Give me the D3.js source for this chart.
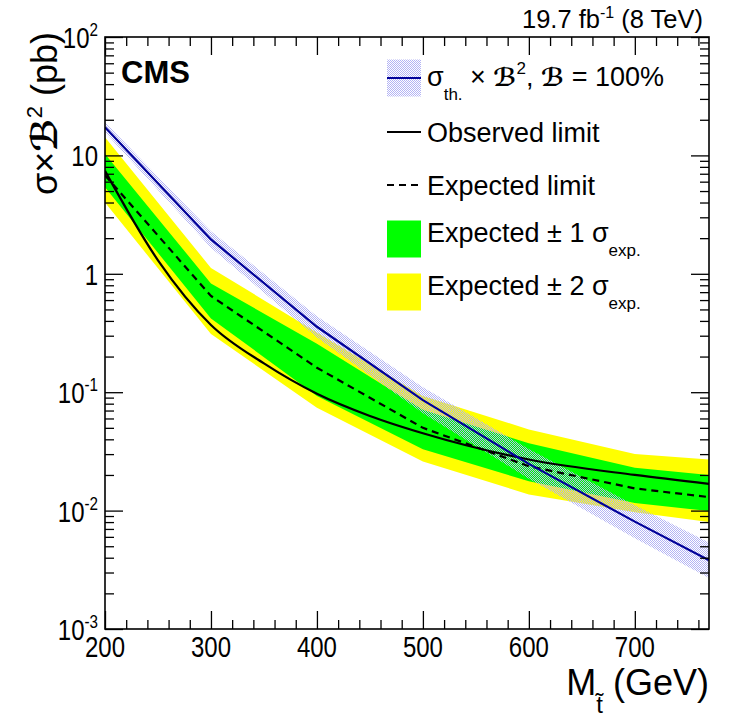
<!DOCTYPE html>
<html lang="en">
<head>
<meta charset="UTF-8">
<title>Stop pair limits</title>
<script src="https://cdn.jsdelivr.net/npm/d3@7"></script>
<style>
  body { margin: 0; background: #fff; }
  text { font-family: "Liberation Sans", Arial, Helvetica, sans-serif; fill: #000; }
</style>
</head>
<body>
<svg width="747" height="725" id="mainsvg"></svg>
<script>
// mass points (GeV) for bands, expected and theory
const masses = [200, 300, 400, 500, 600, 700, 770];
const expected = [6.8, 0.65, 0.161, 0.050, 0.0237, 0.0154, 0.013];
const exp1Up = [10.3, 0.83, 0.256, 0.071, 0.037, 0.023, 0.020];
const exp1Down = [5.37, 0.42, 0.093, 0.033, 0.0177, 0.0116, 0.0099];
const exp2Up = [14.2, 1.12, 0.32, 0.093, 0.0485, 0.030, 0.027];
const exp2Down = [4.0, 0.31, 0.074, 0.026, 0.0137, 0.0097, 0.0080];
const theory = [17.3, 1.95, 0.357, 0.0856, 0.0248, 0.00807, 0.0038];
const theoryUp = [19.1, 2.29, 0.439, 0.110, 0.0331, 0.0111, 0.00537];
const theoryDown = [15.7, 1.66, 0.290, 0.0665, 0.0186, 0.00585, 0.00269];
// observed limit (smooth curve)
const obsMasses = [200, 250, 300, 350, 400, 450, 500, 600, 700, 770];
const observed = [7.4, 1.3, 0.37, 0.175, 0.097, 0.063, 0.045, 0.027, 0.020, 0.0168];
// axis ticks
const xMajor = [200, 300, 400, 500, 600, 700];
const yMajor = [1e-3, 1e-2, 1e-1, 1, 10, 100];

const svg = d3.select('#mainsvg');
const pLeft = 105, pRight = 709, pTop = 37, pBottom = 629;

const x = d3.scaleLinear().domain([200, 770]).range([pLeft, pRight]);
const y = d3.scaleLog().domain([1e-3, 1e2]).range([pBottom, pTop]);

const defs = svg.append('defs');
defs.append('clipPath').attr('id', 'plotclip')
    .append('rect').attr('x', pLeft).attr('y', pTop)
    .attr('width', pRight - pLeft).attr('height', pBottom - pTop);
const pat = defs.append('pattern').attr('id', 'thpat')
    .attr('width', 2).attr('height', 2).attr('patternUnits', 'userSpaceOnUse');
pat.append('rect').attr('width', 1).attr('height', 1).attr('fill', '#b4b4f4');
pat.append('rect').attr('x', 1).attr('y', 1).attr('width', 1).attr('height', 1).attr('fill', '#b4b4f4');

const rows = masses.map((m, i) => ({
    m, exp: expected[i], e1u: exp1Up[i], e1d: exp1Down[i],
    e2u: exp2Up[i], e2d: exp2Down[i], th: theory[i], thu: theoryUp[i], thd: theoryDown[i]
}));
const obsRows = obsMasses.map((m, i) => ({ m, v: observed[i] }));

const plot = svg.append('g').attr('clip-path', 'url(#plotclip)');

const band = (lo, hi) => d3.area().x(d => x(d.m)).y0(d => y(d[lo])).y1(d => y(d[hi]));

plot.append('path').datum(rows).attr('d', band('e2d', 'e2u')).attr('fill', '#ffff00');
plot.append('path').datum(rows).attr('d', band('e1d', 'e1u')).attr('fill', '#00ff00');
plot.append('path').datum(rows).attr('d', band('thd', 'thu')).attr('fill', 'url(#thpat)');

plot.append('path').datum(rows)
    .attr('d', d3.line().x(d => x(d.m)).y(d => y(d.exp)))
    .attr('fill', 'none').attr('stroke', '#000').attr('stroke-width', 2.2)
    .attr('stroke-dasharray', '7,5');
plot.append('path').datum(obsRows)
    .attr('d', d3.line().x(d => x(d.m)).y(d => y(d.v)).curve(d3.curveMonotoneX))
    .attr('fill', 'none').attr('stroke', '#000').attr('stroke-width', 2.2);
plot.append('path').datum(rows)
    .attr('d', d3.line().x(d => x(d.m)).y(d => y(d.th)))
    .attr('fill', 'none').attr('stroke', '#000099').attr('stroke-width', 2.2);

// ticks on all four sides, pointing inwards
const xMinor = d3.range(220, 770, 20).filter(v => v % 100 !== 0);
const yMinor = [];
for (let e = -3; e < 2; e++) for (let k = 2; k < 10; k++) yMinor.push(k * Math.pow(10, e));

function ticks(axis, vals, size, tr) {
    svg.append('g').attr('transform', tr)
        .call(axis.tickValues(vals).tickSize(-size).tickSizeOuter(0).tickFormat(''))
        .call(g => g.select('.domain').remove())
        .call(g => g.selectAll('line').attr('stroke-width', 1.3));
}
ticks(d3.axisBottom(x), xMajor, 18, `translate(0,${pBottom})`);
ticks(d3.axisBottom(x), xMinor, 9, `translate(0,${pBottom})`);
ticks(d3.axisTop(x), xMajor, 18, `translate(0,${pTop})`);
ticks(d3.axisTop(x), xMinor, 9, `translate(0,${pTop})`);
ticks(d3.axisLeft(y), yMajor, 18, `translate(${pLeft},0)`);
ticks(d3.axisLeft(y), yMinor, 9, `translate(${pLeft},0)`);
ticks(d3.axisRight(y), yMajor, 18, `translate(${pRight},0)`);
ticks(d3.axisRight(y), yMinor, 9, `translate(${pRight},0)`);

svg.append('rect').attr('x', pLeft).attr('y', pTop)
    .attr('width', pRight - pLeft).attr('height', pBottom - pTop)
    .attr('fill', 'none').attr('stroke', '#000').attr('stroke-width', 1.6);

// tick labels (narrow glyphs as in the original)
const squeeze = 0.8;
xMajor.forEach(v => {
    svg.append('text').attr('transform', `translate(${x(v)},657) scale(${squeeze},1)`)
        .attr('text-anchor', 'middle').attr('font-size', 30).text(v);
});
yMajor.forEach(v => {
    const e = Math.round(Math.log10(v));
    const t = svg.append('text').attr('transform', `translate(98,${y(v) + 11}) scale(${squeeze},1)`)
        .attr('text-anchor', 'end').attr('font-size', 30);
    if (e === 0) t.text('1');
    else if (e === 1) t.text('10');
    else {
        t.append('tspan').text('10');
        t.append('tspan').attr('font-size', 19).attr('dy', -12).text(e);
    }
});

// axis titles
const yt = svg.append('text').attr('transform', 'translate(57,32) rotate(-90)')
    .attr('text-anchor', 'end').attr('font-size', 36);
yt.append('tspan').text('σ×');
yt.append('tspan').attr('font-family', 'DejaVu Sans').attr('font-weight', 'bold')
    .attr('font-style', 'italic').text('ℬ');
yt.append('tspan').attr('font-size', 22).attr('dy', -15).text('2');
yt.append('tspan').attr('dy', 15).text(' (pb)');

const xt = svg.append('text').attr('x', pRight).attr('y', 695)
    .attr('text-anchor', 'end').attr('font-size', 36);
xt.append('tspan').text('M');
xt.append('tspan').attr('font-size', 24).attr('dy', 18).text('t\u0303');
xt.append('tspan').attr('dy', -18).text(' (GeV)');

const lumi = svg.append('text').attr('x', 703).attr('y', 28)
    .attr('text-anchor', 'end').attr('font-size', 25.5);
lumi.append('tspan').text('19.7 fb');
lumi.append('tspan').attr('font-size', 16).attr('dy', -10).text('-1');
lumi.append('tspan').attr('dy', 10).text(' (8 TeV)');

svg.append('text').attr('x', 121).attr('y', 83).attr('font-size', 31)
    .attr('font-weight', 'bold').text('CMS');

// legend
const lx = 387, lw = 34, lh = 37, tx = 427;
const rowY = [78, 132, 185, 239, 292];

svg.append('rect').attr('x', lx).attr('y', rowY[0] - lh / 2).attr('width', lw).attr('height', lh)
    .attr('fill', 'url(#thpat)');
svg.append('line').attr('x1', lx).attr('x2', lx + lw).attr('y1', rowY[0]).attr('y2', rowY[0])
    .attr('stroke', '#000099').attr('stroke-width', 2.2);
svg.append('line').attr('x1', lx).attr('x2', lx + lw).attr('y1', rowY[1]).attr('y2', rowY[1])
    .attr('stroke', '#000').attr('stroke-width', 2.2);
svg.append('line').attr('x1', lx).attr('x2', lx + lw).attr('y1', rowY[2]).attr('y2', rowY[2])
    .attr('stroke', '#000').attr('stroke-width', 2.2).attr('stroke-dasharray', '7,5');
svg.append('rect').attr('x', lx).attr('y', rowY[3] - lh / 2).attr('width', lw).attr('height', lh)
    .attr('fill', '#00ff00');
svg.append('rect').attr('x', lx).attr('y', rowY[4] - lh / 2).attr('width', lw).attr('height', lh)
    .attr('fill', '#ffff00');

const fs = 27;
const l0 = svg.append('text').attr('x', tx).attr('y', rowY[0] + 8).attr('font-size', fs);
l0.append('tspan').text('σ');
l0.append('tspan').attr('font-size', 17).attr('dy', 14).text('th.');
l0.append('tspan').attr('dy', -14).text(' × ');
l0.append('tspan').attr('font-family', 'DejaVu Sans').attr('font-weight', 'bold')
    .attr('font-style', 'italic').attr('font-size', 25).text('ℬ');
l0.append('tspan').attr('font-size', 17).attr('dy', -12).text('2');
l0.append('tspan').attr('dy', 12).text(', ');
l0.append('tspan').attr('font-family', 'DejaVu Sans').attr('font-weight', 'bold')
    .attr('font-style', 'italic').attr('font-size', 25).text('ℬ');
l0.append('tspan').text(' = 100%');

svg.append('text').attr('x', tx).attr('y', rowY[1] + 9.5).attr('font-size', fs).text('Observed limit');
svg.append('text').attr('x', tx).attr('y', rowY[2] + 9.5).attr('font-size', fs).text('Expected limit');

[1, 2].forEach((n, i) => {
    const t = svg.append('text').attr('x', tx).attr('y', rowY[3 + i] + 3).attr('font-size', fs);
    t.append('tspan').text(`Expected ± ${n} σ`);
    t.append('tspan').attr('font-size', 17).attr('dy', 14).text('exp.');
});
</script>
</body>
</html>
